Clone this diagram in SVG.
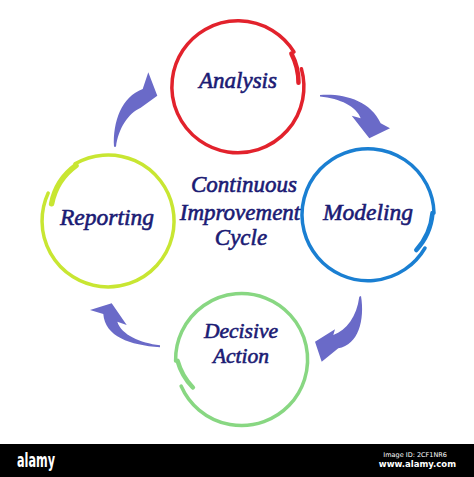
<svg xmlns="http://www.w3.org/2000/svg" width="474" height="477" viewBox="0 0 474 477">
<style>
.lbl{font-family:"Liberation Serif","Times New Roman",serif;font-style:italic;font-weight:normal;fill:#1b1b74;stroke:#1b1b74;stroke-width:0.6;text-anchor:middle}
.ring{fill:none;stroke-linecap:round}
.arrow{fill:#6a6ac8}
.wm{font-family:"DejaVu Sans","Liberation Sans",sans-serif;fill:#ffffff}
</style>
<rect x="0" y="0" width="474" height="477" fill="#ffffff"/>

<g id="connectors">
  <path class="arrow" d="M114,146.7 C112.7,121.7 121.7,96.7 142.7,89 L148.3,72.3 L157.3,95.7 L140.7,107.7 C128.3,113.3 118.3,128.3 116,146.7 Z"/>
  <path class="arrow" d="M320,95 C343.3,93.3 370,100 380.7,123.3 L390,128.3 L369.3,138.3 L351.7,115.7 L360.7,118.3 C356.7,106.7 340,98.3 320,96.5 Z"/>
  <path class="arrow" d="M361,296 C365,320 358.3,345 338.3,348.3 L321.7,361.7 L315,341.7 L335,329.3 L333.3,335 C346.7,330 356.7,316.7 359.3,296.7 Z"/>
  <path class="arrow" d="M160,347.3 C130,345 105,336.7 103.3,314 L90,310 L111.7,303.3 L126.7,325 L117.3,321.7 C121.7,335 140,342.7 160,345.3 Z"/>
</g>

<g id="analysis">
  <path class="ring" stroke="#e2222c" stroke-width="3.5" d="M301.4,68.8 A66,66 0 1 1 294,52"/>
  <path class="ring" stroke="#e2222c" stroke-width="4.5" d="M291.4,53.6 A62,62 0 0 1 298.5,82.8"/>
  <text class="lbl" x="238" y="88" font-size="23">Analysis</text>
</g>

<g id="modeling">
  <path class="ring" stroke="#1a7fd2" stroke-width="3.5" d="M425,248 A66,66 0 1 1 434,213"/>
  <path class="ring" stroke="#1a7fd2" stroke-width="4.5" d="M432.5,213 A63,63 0 0 1 416.3,250"/>
  <text class="lbl" x="368" y="220" font-size="23.5">Modeling</text>
</g>

<g id="decisive-action">
  <path class="ring" stroke="#88d782" stroke-width="3.5" d="M175.6,361 A66,66 0 1 1 181.1,386"/>
  <path class="ring" stroke="#88d782" stroke-width="4.5" d="M177.6,360.8 A62,62 0 0 0 192.9,387.5"/>
  <text class="lbl" x="241" y="338" font-size="21.5">Decisive</text>
  <text class="lbl" x="241" y="363" font-size="21.5">Action</text>
</g>

<g id="reporting">
  <path class="ring" stroke="#c8e632" stroke-width="3.5" d="M75,163.8 A66,66 0 1 1 48.2,193.1"/>
  <path class="ring" stroke="#c8e632" stroke-width="5.5" d="M76,165.6 A62,62 0 0 0 51.6,203.8"/>
  <text class="lbl" x="107" y="225" font-size="23.5">Reporting</text>
</g>

<g id="center-title">
  <text class="lbl" x="244" y="192" font-size="23">Continuous</text>
  <text class="lbl" x="240" y="220" font-size="23">Improvement</text>
  <text class="lbl" x="241" y="245" font-size="23">Cycle</text>
</g>

<g id="watermark">
  <rect x="0" y="444" width="474" height="33" fill="#000000"/>
  <text class="wm" x="17" y="467" font-size="19" font-weight="bold" textLength="38" lengthAdjust="spacingAndGlyphs">alamy</text>
  <text class="wm" x="447" y="457" font-size="6.5" text-anchor="end" fill="#cccccc">Image ID: 2CF1NR6</text>
  <text class="wm" x="456" y="467" font-size="8.5" font-weight="bold" text-anchor="end">www.alamy.com</text>
</g>
</svg>
